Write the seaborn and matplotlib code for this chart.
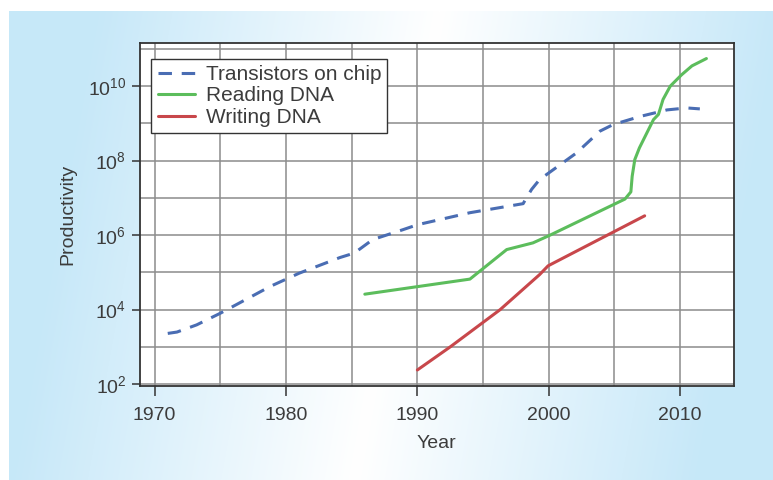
import matplotlib
matplotlib.use('Agg')
import matplotlib.pyplot as plt
import matplotlib.ticker as mticker
import numpy as np
import pandas as pd
import seaborn as sns

# Values (log scale productivity vs. year)
trans_years = [1971.0, 1971.7, 1973.2, 1975.0, 1978.8, 1981.0, 1984.1, 1985.2, 1986.6,
               1988.9, 1990.0, 1994.0, 1998.05, 1998.3, 1998.7, 1999.3, 2002.1, 2003.9,
               2004.9, 2007.0, 2009.0, 2010.5, 2011.5]
trans_values = [2.3e3, 2.5e3, 3.9e3, 8.0e3, 4.2e4, 9.5e4, 2.5e5, 3.3e5, 7.6e5,
                1.4e6, 1.9e6, 4.0e6, 7.0e6, 1.0e7, 1.7e7, 3.1e7, 1.6e8, 6.2e8,
                9.3e8, 1.55e9, 2.3e9, 2.6e9, 2.45e9]

read_years = [1986.0, 1994.0, 1996.8, 1998.8, 2000.1, 2005.8, 2006.25, 2006.35, 2006.55,
              2006.9, 2007.97, 2008.35, 2008.7, 2009.25, 2010.1, 2010.9, 2012.0]
read_values = [2.6e4, 6.6e4, 4.1e5, 6.2e5, 1.0e6, 9.3e6, 1.45e7, 3.8e7, 1.07e8,
               2.2e8, 1.26e9, 1.74e9, 4.4e9, 1.0e10, 2.0e10, 3.5e10, 5.5e10]

write_years = [1990.0, 1992.5, 1996.3, 1999.3, 1999.95, 2007.3]
write_values = [2.4e2, 1.0e3, 1.0e4, 8.7e4, 1.5e5, 3.3e6]

series_labels = ['Transistors on chip', 'Reading DNA', 'Writing DNA']
x_ticks = [1970, 1980, 1990, 2000, 2010]
y_ticks = [1e2, 1e4, 1e6, 1e8, 1e10]

sns.set_style('white')
plt.rcParams['font.family'] = ['Liberation Sans', 'DejaVu Sans']
plt.rcParams['mathtext.default'] = 'regular'
text_col = '#3c3c3c'

fig = plt.figure(figsize=(7.73, 4.8), dpi=100)
fig.patch.set_facecolor('white')

# light blue panel with a soft white band in the middle
bg = fig.add_axes([9 / 773, 0, 1 - 9 / 773, 469 / 480], zorder=-5)
W, H = 764, 469
xx, yy = np.meshgrid(np.arange(W), np.arange(H))
centre = 430 - 85 * yy / H
t = np.clip(np.abs(xx - centre) / 340.0, 0, 1)
blue = np.array([0.78, 0.91, 0.975])
img = (1 - t[..., None]) * np.array([1.0, 1.0, 1.0]) + t[..., None] * blue
bg.imshow(img, aspect='auto', extent=[0, 1, 0, 1])
bg.set_axis_off()

ax = fig.add_axes([139.5 / 773, 1 - 386 / 480, (734 - 139.5) / 773, (386 - 43.3) / 480])
ax.set_facecolor('white')

sns.lineplot(x=trans_years, y=trans_values, ax=ax, color='#4a6db3', lw=2.2,
             sort=False, estimator=None, label=series_labels[0])
ax.lines[-1].set_dashes((4.4, 3.2))
sns.lineplot(x=read_years, y=read_values, ax=ax, color='#5cbd5c', lw=2.2,
             sort=False, estimator=None, label=series_labels[1])
sns.lineplot(x=write_years, y=write_values, ax=ax, color='#c8474b', lw=2.2,
             sort=False, estimator=None, label=series_labels[2])

ax.set_yscale('log')
ax.set_xlim(1968.85, 2014.1)
ax.set_ylim(10 ** 1.95, 10 ** 11.15)

ax.xaxis.set_major_locator(mticker.FixedLocator(x_ticks))
ax.xaxis.set_minor_locator(mticker.MultipleLocator(5))
ax.xaxis.set_minor_formatter(mticker.NullFormatter())
ax.yaxis.set_major_locator(mticker.FixedLocator(y_ticks))
ax.yaxis.set_minor_locator(mticker.LogLocator(base=10.0, subs=(1.0,), numticks=20))
ax.yaxis.set_major_formatter(mticker.LogFormatterSciNotation(base=10))
ax.yaxis.set_minor_formatter(mticker.NullFormatter())

ax.grid(True, which='both', color='#8c8c8c', lw=1.1)
ax.set_axisbelow(True)
ax.tick_params(which='major', direction='out', length=6, width=1.1, color='#333333',
               labelsize=14, labelcolor=text_col, left=True, bottom=True)
ax.tick_params(axis='x', which='major', length=7, pad=8)
ax.tick_params(which='minor', length=0)
for s in ax.spines.values():
    s.set_color('#333333')
    s.set_linewidth(1.3)

ax.set_xlabel('Year', fontsize=14, color=text_col, labelpad=8)
ax.set_ylabel('Productivity', fontsize=14, color=text_col, labelpad=8)

leg = ax.legend(loc='upper left', bbox_to_anchor=(0.02, 0.955), borderaxespad=0,
                fontsize=15, frameon=True, fancybox=False, framealpha=1,
                edgecolor='#333333', labelspacing=0.12, handlelength=1.8,
                handletextpad=0.5, borderpad=0.3)
leg.get_frame().set_linewidth(1.0)
for txt in leg.get_texts():
    txt.set_color(text_col)

plt.savefig('out.png', dpi=100)
plt.close()
